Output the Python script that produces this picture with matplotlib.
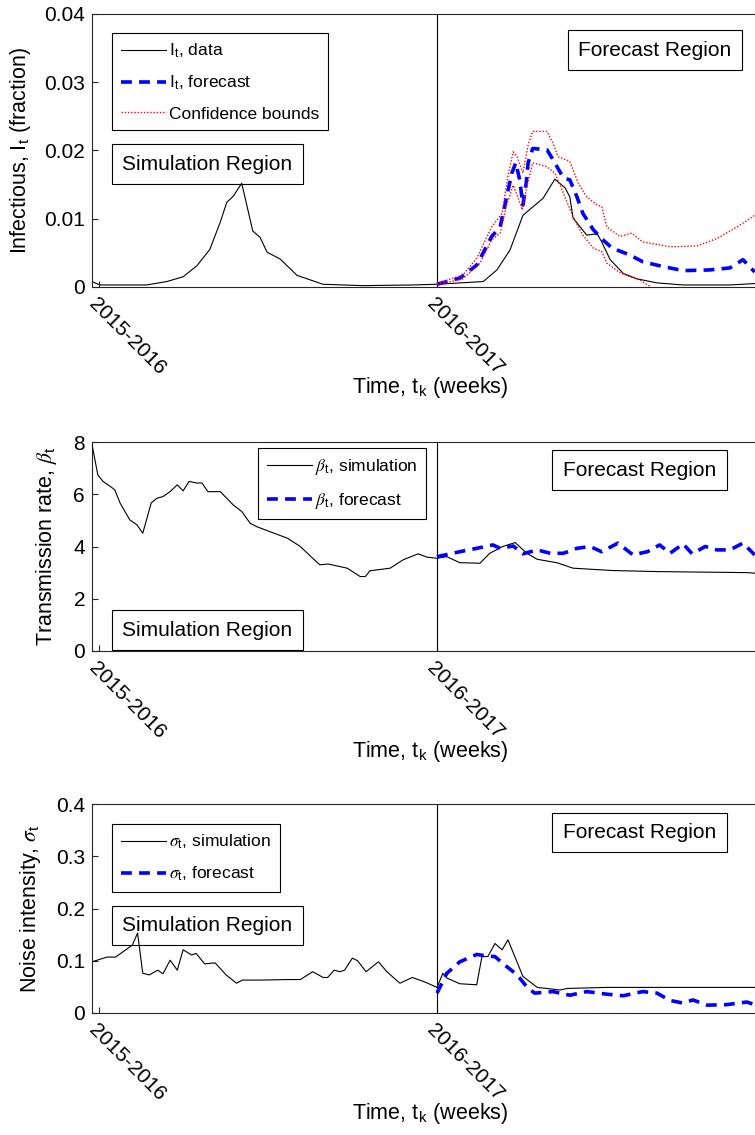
import numpy as np
import matplotlib
matplotlib.use("Agg")
import matplotlib.pyplot as plt

plt.rcParams['font.family'] = ['Liberation Sans', 'DejaVu Sans']
plt.rcParams['mathtext.fontset'] = 'stix'

# weeks since start of 2015-2016 season; forecast begins at week 53
split_week = 53
season_ticks = [1, 53]
season_labels = ['2015-2016', '2016-2017']

# --- infectious fraction ---
inf_sim_w = [0, 1.2, 8.4, 11.5, 14.0, 16.1, 18.1, 19.7, 20.7, 21.7, 23.0, 24.7, 25.8,
             26.9, 28.9, 31.5, 35.5, 41.6, 49.3, 53.0, 60.1, 62.2, 64.2, 66.2, 67.3,
             69.3, 71.1, 72.7, 73.4, 73.9, 76.0, 77.6, 78.3, 79.6, 81.6, 83.7, 86.8,
             90.8, 98.0, 101.8]
inf_sim = [0.0008, 0.0003, 0.0003, 0.0008, 0.0015, 0.0031, 0.0055, 0.0095, 0.0124,
           0.0133, 0.0152, 0.0082, 0.0073, 0.0051, 0.0041, 0.0017, 0.0004, 0.0002,
           0.0003, 0.0004, 0.0008, 0.0025, 0.0054, 0.0105, 0.0114, 0.0130, 0.0158,
           0.0145, 0.0132, 0.0101, 0.0076, 0.0078, 0.0066, 0.0040, 0.0020, 0.0012,
           0.0006, 0.0003, 0.0003, 0.0005]

inf_fc_w = [53.0, 56.5, 59.1, 61.4, 62.7, 63.7, 64.5, 65.1, 65.7, 66.2, 66.7, 67.0,
            67.7, 69.9, 71.1, 72.4, 73.4, 74.5, 75.4, 77.0, 78.5, 79.9, 82.6, 84.6,
            87.7, 90.8, 94.9, 98.0, 100.0, 101.8]
inf_fc = [0.0004, 0.0013, 0.0032, 0.0074, 0.0088, 0.0132, 0.0167, 0.0182, 0.0157,
          0.0120, 0.0152, 0.0182, 0.0203, 0.0201, 0.0182, 0.0160, 0.0157, 0.0132,
          0.0108, 0.0084, 0.0069, 0.0057, 0.0047, 0.0037, 0.0030, 0.0024, 0.0025,
          0.0028, 0.0040, 0.0022]

upper_w = [53.0, 57.0, 59.1, 61.4, 63.0, 63.9, 64.7, 65.3, 66.2, 67.0, 67.7, 69.9,
           70.8, 71.6, 73.4, 74.7, 76.0, 77.6, 78.3, 79.1, 81.1, 82.9, 84.6, 88.8,
           92.9, 96.0, 99.1, 101.8]
upper = [0.0005, 0.0018, 0.0042, 0.0088, 0.0108, 0.0163, 0.0198, 0.0191, 0.0167,
         0.0208, 0.0228, 0.0228, 0.0211, 0.0191, 0.0184, 0.0152, 0.0132, 0.0120,
         0.0118, 0.0088, 0.0074, 0.0079, 0.0066, 0.0059, 0.0060, 0.0071, 0.0088,
         0.0105]

lower_w = [53.0, 57.0, 59.6, 61.4, 62.7, 63.7, 64.7, 65.4, 66.1, 66.8, 67.7, 69.9,
           71.1, 72.4, 73.9, 75.4, 77.0, 78.3, 79.1, 81.1, 82.6, 84.2, 85.7]
lower = [0.0003, 0.0012, 0.0035, 0.0069, 0.0079, 0.0120, 0.0149, 0.0132, 0.0113,
         0.0147, 0.0182, 0.0176, 0.0167, 0.0138, 0.0103, 0.0076, 0.0057, 0.0052,
         0.0035, 0.0021, 0.0015, 0.0010, 0.0001]

# --- transmission rate ---
beta_sim_w = [0, 0.9, 1.7, 2.8, 3.5, 4.3, 5.8, 6.9, 7.8, 9.1, 10.0, 10.9, 12.0, 13.1,
              14.0, 14.9, 16.1, 16.9, 17.8, 19.7, 21.7, 23.0, 24.3, 25.3, 27.3, 30.0,
              32.0, 33.9, 35.0, 36.3, 39.2, 41.2, 42.0, 42.7, 45.8, 47.8, 50.1, 51.5,
              53.0, 54.5, 56.5, 59.6, 61.1, 63.1, 65.0, 66.8, 68.4, 71.4, 73.9, 80.0,
              86.8, 100.6, 101.8]
beta_sim = [7.9, 6.74, 6.49, 6.30, 6.17, 5.67, 5.02, 4.83, 4.51, 5.67, 5.85, 5.91,
            6.10, 6.36, 6.13, 6.49, 6.43, 6.43, 6.10, 6.10, 5.59, 5.34, 4.89, 4.76,
            4.57, 4.32, 4.00, 3.55, 3.30, 3.33, 3.17, 2.85, 2.85, 3.07, 3.17, 3.49,
            3.72, 3.59, 3.55, 3.61, 3.38, 3.36, 3.74, 4.00, 4.15, 3.74, 3.51, 3.38,
            3.17, 3.08, 3.04, 3.00, 2.98]

beta_fc_w = [53.0, 56.5, 59.1, 61.6, 62.7, 64.7, 66.2, 68.4, 70.4, 72.4, 74.5, 76.5,
             78.3, 80.8, 83.1, 85.3, 87.2, 88.8, 90.8, 92.2, 94.2, 96.0, 98.0, 100.0,
             101.8]
beta_fc = [3.61, 3.80, 3.93, 4.06, 3.93, 4.02, 3.72, 3.87, 3.74, 3.74, 3.93, 4.00,
           3.80, 4.13, 3.68, 3.80, 4.06, 3.74, 4.10, 3.72, 4.00, 3.87, 3.87, 4.13, 3.68]

# --- noise intensity ---
sig_sim_w = [0, 2.3, 3.6, 5.2, 6.2, 7.0, 7.8, 8.8, 10.1, 10.9, 12.0, 13.1, 14.0, 15.3,
             16.0, 17.3, 18.9, 20.6, 22.2, 23.1, 25.8, 30.0, 32.0, 33.9, 35.5, 36.2,
             37.2, 38.1, 38.8, 40.0, 40.8, 42.1, 44.0, 45.3, 47.3, 49.2, 51.2, 53.0,
             53.9, 54.5, 56.5, 59.1, 59.9, 60.8, 61.9, 63.0, 63.9, 66.2, 68.4, 71.9,
             73.0, 79.1, 101.8]
sig_sim = [0.098, 0.107, 0.107, 0.121, 0.130, 0.153, 0.076, 0.073, 0.082, 0.075,
           0.101, 0.082, 0.121, 0.111, 0.114, 0.094, 0.096, 0.073, 0.057, 0.063,
           0.063, 0.064, 0.064, 0.079, 0.068, 0.068, 0.082, 0.079, 0.082, 0.105,
           0.100, 0.079, 0.098, 0.079, 0.057, 0.068, 0.059, 0.049, 0.076, 0.067,
           0.056, 0.054, 0.108, 0.108, 0.133, 0.121, 0.140, 0.070, 0.049, 0.044,
           0.047, 0.049, 0.049]

sig_fc_w = [53.0, 54.5, 56.5, 59.1, 60.7, 61.9, 63.1, 65.3, 66.8, 68.0, 70.8, 73.4,
            76.0, 79.1, 81.6, 84.6, 86.8, 88.8, 90.8, 92.3, 94.5, 97.5, 100.6, 101.8]
sig_fc = [0.038, 0.076, 0.098, 0.112, 0.109, 0.108, 0.095, 0.073, 0.050, 0.038,
          0.041, 0.034, 0.041, 0.036, 0.033, 0.041, 0.038, 0.024, 0.019, 0.025,
          0.015, 0.016, 0.021, 0.016]

W, H = 755, 1135
fig = plt.figure(figsize=(W / 100, H / 100), dpi=100)

def px_axes(left, top, bottom, right=769):
    return fig.add_axes([left / W, 1 - bottom / H, (right - left) / W, (bottom - top) / H])

ax1 = px_axes(92, 14, 287)
ax2 = px_axes(92, 442, 651)
ax3 = px_axes(92, 804, 1013)

black = dict(color='k', lw=0.8, zorder=3)
blue = dict(color='#0000ff', lw=2.6, ls=(0, (3, 2)), zorder=3)
red = dict(color='#ff0000', lw=1.0, ls=(0, (1, 1.3)), zorder=3)

ax1.plot(inf_sim_w, inf_sim, label=r'I$_\mathregular{t}$, data', **black)
ax1.plot(inf_fc_w, inf_fc, label=r'I$_\mathregular{t}$, forecast', **blue)
ax1.plot(upper_w, upper, label='Confidence bounds', **red)
ax1.plot(lower_w, lower, **red)
ax1.set_ylim(0, 0.04)
ax1.set_yticks([0, 0.01, 0.02, 0.03, 0.04])
ax1.set_yticklabels(['0', '0.01', '0.02', '0.03', '0.04'])
ax1.set_ylabel(r'Infectious, I$_\mathregular{t}$ (fraction)', labelpad=8)

ax2.plot(beta_sim_w, beta_sim, label=r'$\beta_\mathregular{t}$, simulation', **black)
ax2.plot(beta_fc_w, beta_fc, label=r'$\beta_\mathregular{t}$, forecast', **blue)
ax2.set_ylim(0, 8)
ax2.set_yticks([0, 2, 4, 6, 8])
ax2.set_ylabel(r'Transmission rate, $\beta_\mathregular{t}$', labelpad=10)

ax3.plot(sig_sim_w, sig_sim, label=r'$\sigma_\mathregular{t}$, simulation', **black)
ax3.plot(sig_fc_w, sig_fc, label=r'$\sigma_\mathregular{t}$, forecast', **blue)
ax3.set_ylim(0, 0.4)
ax3.set_yticks([0, 0.1, 0.2, 0.3, 0.4])
ax3.set_yticklabels(['0', '0.1', '0.2', '0.3', '0.4'])
ax3.set_ylabel(r'Noise intensity, $\sigma_\mathregular{t}$', labelpad=9)

box = dict(boxstyle='square,pad=0.5', fc='white', ec='k', lw=0.8)
layout = [
    (ax1, 273, (0.0295, 0.930), (0.1706, 0.4505), (0.831, 0.868)),
    (ax2, 209, (0.245, 0.971), (0.1706, 0.100), (0.8087, 0.866)),
    (ax3, 209, (0.0295, 0.904), (0.1706, 0.419), (0.8087, 0.864)),
]
for ax, hpx, leg_xy, sim_xy, fc_xy in layout:
    ax.axvline(split_week, color='k', lw=0.8, zorder=2)
    ax.set_xlim(0, 104)
    ax.set_xticks(season_ticks)
    ax.set_xticklabels(season_labels, rotation=-45, ha='left', va='top',
                       rotation_mode='anchor')
    ax.tick_params(direction='in', length=4, labelsize=15, pad=5, color='#262626')
    ax.set_xlabel(r'Time, t$_\mathregular{k}$ (weeks)', fontsize=15.5)
    ax.xaxis.set_label_coords(0.5, -88 / hpx)
    ax.yaxis.label.set_size(15.5)
    for s in ax.spines.values():
        s.set_color('#262626')
        s.set_linewidth(0.8)
    leg = ax.legend(loc='upper left', bbox_to_anchor=leg_xy, fontsize=12.5,
                    fancybox=False, edgecolor='k', framealpha=1,
                    handlelength=2.6, handletextpad=0.2, borderaxespad=0,
                    labelspacing=0.8, borderpad=0.5)
    leg.get_frame().set_linewidth(0.8)
    leg.set_zorder(5)
    # region labels sit beneath the curves, as in the original
    ax.text(*sim_xy, 'Simulation Region', transform=ax.transAxes, fontsize=15,
            ha='center', va='center', bbox=box, zorder=1)
    ax.text(*fc_xy, 'Forecast Region', transform=ax.transAxes, fontsize=15,
            ha='center', va='center', bbox=box, zorder=1)

fig.savefig('out.png', dpi=100)
